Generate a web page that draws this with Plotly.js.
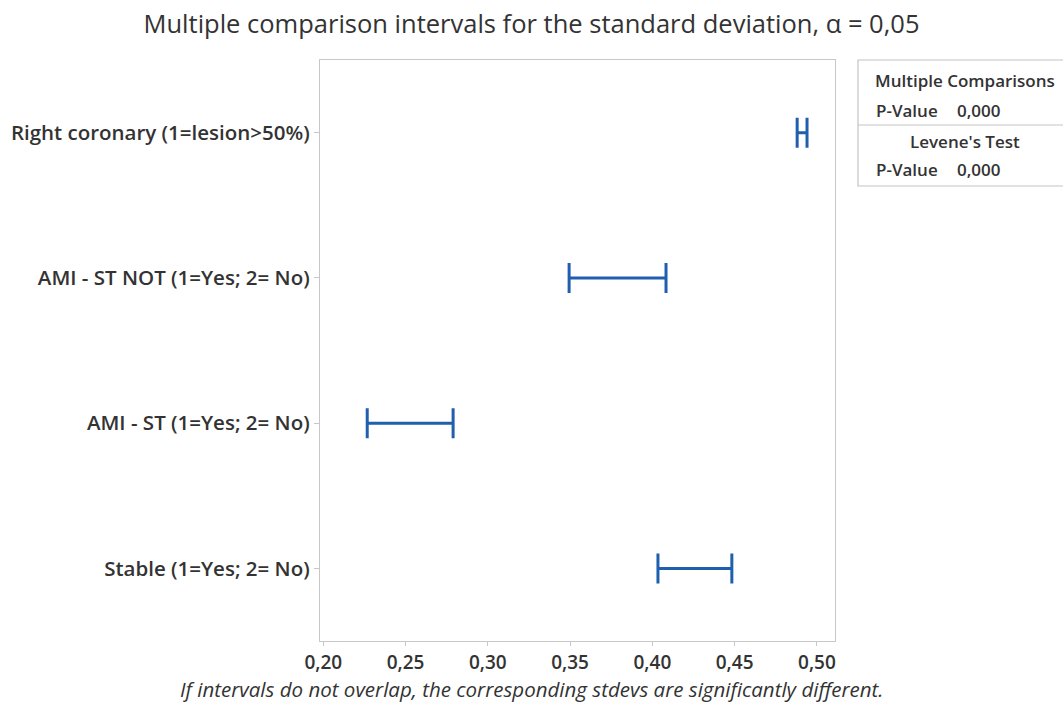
<!DOCTYPE html>
<html>
<head>
<meta charset="utf-8">
<script src="https://cdn.plot.ly/plotly-3.0.1.min.js"></script>
<style>html,body{margin:0;padding:0;background:#fff;}#chart{width:1063px;height:711px;}</style>
</head>
<body>
<div id="chart"></div>
<script>
// Categories, bottom to top
const categories = [
  "Stable (1=Yes; 2= No)",
  "AMI - ST (1=Yes; 2= No)",
  "AMI - ST NOT (1=Yes; 2= No)",
  "Right coronary (1=lesion>50%)"
];
const lowerBound = [0.4034, 0.2267, 0.3494, 0.4880];
const upperBound = [0.4483, 0.2789, 0.4083, 0.4940];
const xTickVals = [0.20, 0.25, 0.30, 0.35, 0.40, 0.45, 0.50];
const tableTitles = ["Multiple Comparisons", "Levene's Test"];
const tablePValues = ["0,000", "0,000"];

const mid = lowerBound.map((l, i) => (l + upperBound[i]) / 2);
const half = lowerBound.map((l, i) => (upperBound[i] - l) / 2);

const blue = "#1f5fae";
const textCol = "#333333";
const fontFam = "'Open Sans', 'Noto Sans', sans-serif";

const trace = {
  type: "scatter",
  mode: "markers",
  x: mid,
  y: categories,
  marker: {size: 1, color: "rgba(0,0,0,0)"},
  error_x: {type: "data", symmetric: true, array: half, color: blue, thickness: 3, width: 15},
  hoverinfo: "skip",
  showlegend: false
};

// paper mapping helpers (plot area: x 320..835, y 60..641)
const PX = px => (px - 320) / 515;
const PY = py => (641 - py) / 581;

const annotations = [
  {text: "<i>If intervals do not overlap, the corresponding stdevs are significantly different.</i>",
   xref: "paper", yref: "paper", x: PX(531), y: PY(689), xanchor: "center", yanchor: "middle",
   showarrow: false, font: {family: fontFam, size: 20.5, color: textCol}}
];
const rowY = [[80, 110], [141, 169]];
tableTitles.forEach((t, i) => {
  annotations.push({text: t, xref: "paper", yref: "paper", x: PX(965), y: PY(rowY[i][0]),
    xanchor: "center", yanchor: "middle", showarrow: false,
    font: {family: fontFam, size: 17, color: textCol, weight: 600}});
  annotations.push({text: "P-Value", xref: "paper", yref: "paper", x: PX(940), y: PY(rowY[i][1]),
    xanchor: "right", yanchor: "middle", showarrow: false,
    font: {family: fontFam, size: 17, color: textCol, weight: 600}});
  annotations.push({text: tablePValues[i], xref: "paper", yref: "paper", x: PX(955), y: PY(rowY[i][1]),
    xanchor: "left", yanchor: "middle", showarrow: false,
    font: {family: fontFam, size: 17, color: textCol, weight: 600}});
});

const shapes = [
  {type: "rect", xref: "paper", yref: "paper", x0: PX(858), x1: PX(1075), y0: PY(186), y1: PY(60),
   line: {color: "#c4c4c4", width: 1.2}, fillcolor: "rgba(0,0,0,0)"},
  {type: "line", xref: "paper", yref: "paper", x0: PX(858), x1: PX(1075), y0: PY(125), y1: PY(125),
   line: {color: "#c4c4c4", width: 1.2}}
];

const layout = {
  width: 1063, height: 711,
  margin: {l: 320, r: 228, t: 60, b: 70},
  paper_bgcolor: "#ffffff", plot_bgcolor: "#ffffff",
  separators: ",.",
  title: {text: "Multiple comparison intervals for the standard deviation, α = 0,05",
    xref: "container", x: 0.5, xanchor: "center", yref: "container", y: 1 - 24 / 711, yanchor: "middle",
    font: {family: fontFam, size: 25.5, color: textCol}},
  xaxis: {range: [0.198, 0.511], tickvals: xTickVals, tickformat: ".2f",
    showgrid: false, zeroline: false, showline: true, mirror: true, linecolor: "#c8c8c8", linewidth: 1.2,
    ticks: "outside", ticklen: 4, tickcolor: "#c8c8c8",
    tickfont: {family: fontFam, size: 19, color: textCol, weight: 600}},
  yaxis: {type: "category", categoryorder: "array", categoryarray: categories, range: [-0.5, 3.5],
    showgrid: false, zeroline: false, showline: true, mirror: true, linecolor: "#c8c8c8", linewidth: 1.2,
    ticks: "outside", ticklen: 5, tickcolor: "#c8c8c8",
    tickfont: {family: fontFam, size: 20.5, color: textCol, weight: 600}},
  annotations: annotations,
  shapes: shapes
};

Plotly.newPlot("chart", [trace], layout, {displayModeBar: false, staticPlot: true});
</script>
</body>
</html>
